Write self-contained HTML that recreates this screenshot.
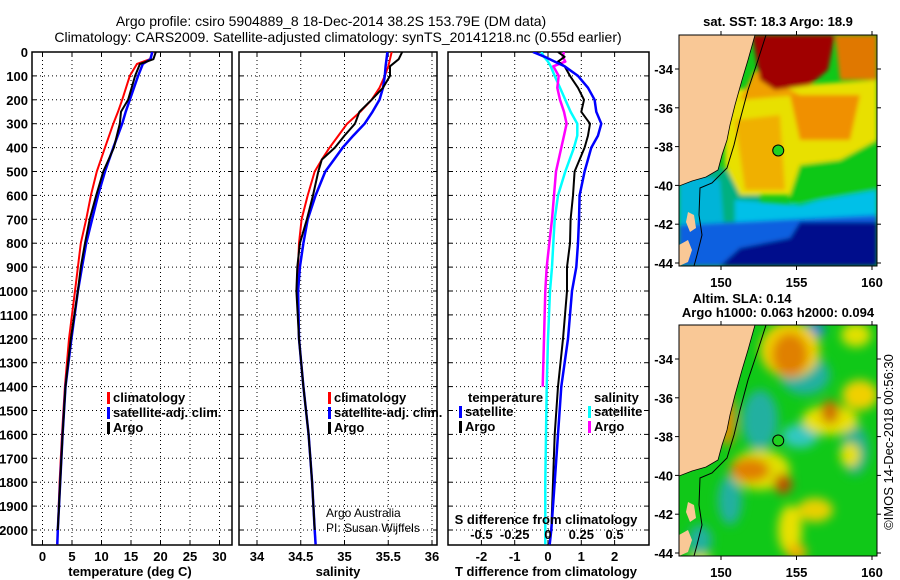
<!DOCTYPE html>
<html><head><meta charset="utf-8">
<style>
html,body{margin:0;padding:0;background:#fff;}
svg{display:block;font-family:"Liberation Sans",sans-serif;}
.tk{font-size:13px;font-weight:bold;fill:#000;}
.tt{font-size:14px;fill:#000;}
.lg{font-size:13px;font-weight:bold;fill:#000;}
</style></head>
<body>
<svg id="chart" width="900" height="580" viewBox="0 0 900 580" xmlns="http://www.w3.org/2000/svg">
<defs>
<filter id="b2" x="-10%" y="-10%" width="120%" height="120%"><feGaussianBlur stdDeviation="2"/></filter>
<filter id="b5" x="-30%" y="-30%" width="160%" height="160%"><feGaussianBlur stdDeviation="5"/></filter>
<clipPath id="cm1"><rect x="679" y="35" width="198" height="231"/></clipPath>
<clipPath id="cm2"><rect x="679" y="325" width="198" height="231"/></clipPath>
<clipPath id="cp1"><rect x="32" y="52" width="200" height="493"/></clipPath>
<clipPath id="cp2"><rect x="239" y="52" width="198" height="493"/></clipPath>
<clipPath id="cp3"><rect x="448" y="52" width="201" height="493"/></clipPath>
</defs>
<text class="tt" x="331" y="26" text-anchor="middle">Argo profile: csiro 5904889_8 18-Dec-2014 38.2S 153.79E (DM data)</text>
<text class="tt" x="338" y="42" text-anchor="middle">Climatology: CARS2009. Satellite-adjusted climatology: synTS_20141218.nc (0.55d earlier)</text>
<g id="p1"></g>
<g id="p2"></g>
<g id="p3"></g>
<g id="maps"></g>
</svg>
<script>
// ---------- data ----------
const tDepth = [0,30,50,100,200,250,300,400,500,600,700,800,900,1000,1200,1400,1600,1800,2000,2060];
const climT = [18.7,18.2,16.0,14.8,13.5,12.8,12.0,10.6,9.2,8.2,7.4,6.5,6.0,5.5,4.5,3.8,3.3,2.9,2.6,2.5];
const satT  = [18.6,18.3,17.0,16.2,14.8,14.1,13.5,12.0,10.6,9.4,8.4,7.4,6.7,6.0,4.9,3.9,3.4,3.0,2.6,2.5];
const argoT = [19.2,18.8,16.5,15.7,14.5,13.3,13.1,12.1,10.3,9.1,8.0,7.2,6.5,6.0,4.8,3.9,3.4,3.0,2.6,null];

const sDepth = [0,30,60,100,150,200,250,300,350,400,450,500,600,700,800,900,1000,1200,1400,1600,1800,2000,2060];
const climS = [35.54,35.52,35.50,35.46,35.40,35.31,35.18,35.03,34.93,34.83,34.74,34.66,34.58,34.51,34.48,34.47,34.46,34.48,34.53,34.59,34.63,34.66,34.67];
const satS  = [35.49,35.48,35.47,35.46,35.44,35.40,35.32,35.23,35.10,34.98,34.88,34.78,34.67,34.58,34.53,34.49,34.47,34.48,34.53,34.59,34.63,34.66,34.67];
const argoS = [35.66,35.62,35.52,35.52,35.44,35.31,35.17,35.12,35.00,34.89,34.74,34.70,34.64,34.57,34.49,34.46,34.45,34.48,34.53,34.59,34.63,34.66,null];

const dDepth = [0,20,40,60,100,150,200,250,300,350,400,500,600,700,800,900,1000,1200,1400,1600,1800,2000,2060];
const satTd  = [-0.45,-0.1,0.2,0.5,0.9,1.2,1.4,1.45,1.6,1.5,1.3,1.1,0.95,0.93,0.9,0.85,0.72,0.6,0.4,0.3,0.2,0.1,0.05];
const argoTd = [0.3,0.5,0.3,0.5,0.66,0.9,1.08,1.0,1.26,1.2,1.1,0.8,0.75,0.68,0.66,0.57,0.57,0.45,0.3,0.2,0.15,0.1,null];
const satSd  = [-0.05,-0.03,0.0,0.02,0.05,0.09,0.13,0.17,0.22,0.22,0.195,0.13,0.075,0.05,0.04,0.03,0.015,0.0,-0.01,-0.015,-0.02,-0.02,-0.02];
const argoSd = [0.12,0.11,0.13,0.04,0.08,0.07,0.09,0.12,0.14,0.12,0.10,0.06,0.045,0.03,0.01,-0.01,-0.02,-0.03,-0.04,null,null,null,null];

const depthTicks = [0,100,200,300,400,500,600,700,800,900,1000,1100,1200,1300,1400,1500,1600,1700,1800,1900,2000];
const tTicks = [0,5,10,15,20,25,30];
const sTicks = [34,34.5,35,35.5,36];
const dTTicks = [-2,-1,0,1,2];
const dSTicks = [-0.5,-0.25,0,0.25,0.5];
const dSTickLabels = ['-0.5','-0.25','0','0.25','0.5'];

// ---------- axes ----------
const NS='http://www.w3.org/2000/svg';
const yD = d => 52 + 0.239*d;
const xT = t => 42.5 + 5.9*t;
const xS = s => 257 + 87.5*(s-34);
const xDT = d => 548 + 33.3*d;
const xDS = d => 548 + 133.2*d;

function mk(tag, attrs, parent){const e=document.createElementNS(NS,tag);for(const k in attrs)e.setAttribute(k,attrs[k]);parent.appendChild(e);return e;}
function txt(s, attrs, parent){const e=mk('text',attrs,parent);e.textContent=s;return e;}

function frame(g, x0, x1, xticks, xfun, labels, clipId){
  const grid = mk('g',{},g);
  
  
  depthTicks.forEach(d=>{
    mk('line',{x1:x0,x2:x1,y1:yD(d),y2:yD(d),stroke:'#000','stroke-width':1,'stroke-dasharray':'1,3'},grid);
    mk('line',{x1:x0,x2:x0+4,y1:yD(d),y2:yD(d),stroke:'#000'},grid);
    mk('line',{x1:x1-4,x2:x1,y1:yD(d),y2:yD(d),stroke:'#000'},grid);
  });
  xticks.forEach((t,i)=>{
    const x=xfun(t);
    mk('line',{x1:x,x2:x,y1:52,y2:545,stroke:'#000','stroke-width':1,'stroke-dasharray':'1,3'},grid);
    mk('line',{x1:x,x2:x,y1:541,y2:545,stroke:'#000'},grid);
    mk('line',{x1:x,x2:x,y1:52,y2:56,stroke:'#000'},grid);
    const lb=txt(labels[i],{class:'tk',x:x,y:561,'text-anchor':'middle'},g);
    
    
  });
  const r=mk('rect',{x:x0,y:52,width:x1-x0,height:493,fill:'none',stroke:'#000','stroke-width':1.5},g);
  
  
}
function line(g, xs, ds, xf, color, w, name, clip){
  let p='';let started=false;
  for(let i=0;i<xs.length;i++){
    if(xs[i]===null||xs[i]===undefined){continue;}
    p+=(started?'L':'M')+xf(xs[i]).toFixed(1)+','+yD(ds[i]).toFixed(1);started=true;
  }
  const e=mk('path',{d:p,fill:'none',stroke:color,'stroke-width':w,'stroke-linejoin':'round','clip-path':'url(#'+clip+')'},g);
  
  
}
function legend(g, x, y, items){
  items.forEach((it,i)=>{
    mk('rect',{x:x,y:y+i*15-10,width:3,height:12,fill:it[1]},g);
    const t=txt(it[0],{class:'lg',x:x+6,y:y+i*15},g);
    
    
  });
}

// depth labels
const p1=document.getElementById('p1');
depthTicks.forEach(d=>{
  const t=txt(String(d),{class:'tk',x:28,y:yD(d)+5,'text-anchor':'end'},p1);
  
  
});
frame(p1,32,232,tTicks,xT,tTicks.map(String),'cp1');
line(p1,climT,tDepth,xT,'#ff0000',2,'climatology-temperature-line','cp1');
line(p1,satT,tDepth,xT,'#0000ff',2.5,'satellite-temperature-line','cp1');
line(p1,argoT,tDepth,xT,'#000000',2,'argo-temperature-line','cp1');
legend(p1,107,402,[['climatology','#ff0000'],['satellite-adj. clim.','#0000ff'],['Argo','#000']]);
let at=txt('temperature (deg C)',{class:'tk',x:130,y:576,'text-anchor':'middle'},p1);



const p2=document.getElementById('p2');
frame(p2,239,437,sTicks,xS,sTicks.map(String),'cp2');
line(p2,climS,sDepth,xS,'#ff0000',2,'climatology-salinity-line','cp2');
line(p2,satS,sDepth,xS,'#0000ff',2.5,'satellite-salinity-line','cp2');
line(p2,argoS,sDepth,xS,'#000000',2,'argo-salinity-line','cp2');
legend(p2,328,402,[['climatology','#ff0000'],['satellite-adj. clim.','#0000ff'],['Argo','#000']]);
txt('Argo Australia',{x:326,y:517,'font-size':12,fill:'#000'},p2);
txt('PI: Susan Wijffels',{x:326,y:532,'font-size':12,fill:'#000'},p2);
at=txt('salinity',{class:'tk',x:338,y:576,'text-anchor':'middle'},p2);



const p3=document.getElementById('p3');
frame(p3,448,649,dTTicks,xDT,dTTicks.map(String),'cp3');
line(p3,satSd,dDepth,xDS,'#00ffff',2.5,'satellite-salinity-diff-line','cp3');
line(p3,argoSd,dDepth,xDS,'#ff00ff',2.5,'argo-salinity-diff-line','cp3');
line(p3,argoTd,dDepth,xDT,'#000000',2,'argo-temperature-diff-line','cp3');
line(p3,satTd,dDepth,xDT,'#0000ff',2.5,'satellite-temperature-diff-line','cp3');
txt('temperature',{class:'lg',x:468,y:402},p3);
legend(p3,459,416,[['satellite','#0000ff'],['Argo','#000']]);
txt('salinity',{class:'lg',x:594,y:402},p3);
legend(p3,588,416,[['satellite','#00ffff'],['Argo','#ff00ff']]);
txt('S difference from climatology',{class:'lg',x:546,y:524,'text-anchor':'middle'},p3);
dSTicks.forEach((s,i)=>{
  const t=txt(dSTickLabels[i],{class:'lg',x:xDS(s),y:539,'text-anchor':'middle'},p3);
  
  
});
at=txt('T difference from climatology',{class:'tk',x:546,y:576,'text-anchor':'middle'},p3);



// ---------- maps ----------
const maps=document.getElementById('maps');
const latTicks=[-34,-36,-38,-40,-42,-44];
const lonTicks=[150,155,160];
const mx = lon => 721 + 15.1*(lon-150);
const my = (lat,off) => off + 69 + 19.4*(-34-lat);
const landPts='679,35 755,35 748,60 742,80 735,105 730,125 727,140 722,155 718,170 706,177 692,181 679,186';
const shelfPts='766,35 758,60 748,90 740,120 734,145 727,168 712,183 700,188 699,215 702,235 697,255 694,266';
function mapFrame(off, title1, title2){
  const g=mk('g',{},maps);
  
  
  return g;
}
// SST map
const g1=mapFrame(0);
const c1=mk('g',{'clip-path':'url(#cm1)'},g1);
mk('rect',{x:679,y:35,width:198,height:231,fill:'#10c818'},c1);
const sstShapes=[
 ['#00b080','679,150 760,185 760,240 679,240'],
 ['#00b4d8','679,170 720,180 725,240 679,240'],
 ['#00c0e8','735,200 800,205 877,185 877,225 735,235'],
 ['#0a60e0','679,225 877,215 877,266 679,266'],
 ['#000c8c','740,248 790,238 800,222 877,222 877,266 720,266'],
 ['#10c818','780,160 877,140 877,190 790,205'],
 ['#e8e000','725,90 877,80 877,140 840,160 800,165 790,195 740,195 725,165'],
 ['#f0b000','735,120 780,115 785,190 745,190'],
 ['#f09000','790,95 860,95 850,140 800,140'],
 ['#e07800','835,35 877,35 877,80 840,80'],
 ['#f0a000','755,70 800,95 740,100'],
 ['#a00000','752,35 835,35 828,70 810,85 775,90 760,80']
];
const s1=mk('g',{filter:'url(#b2)'},c1);
sstShapes.forEach(s=>{const p=mk('polygon',{points:s[1],fill:s[0]},s1);});
// SLA map
const g2=mapFrame(290);
const c2=mk('g',{'clip-path':'url(#cm2)'},g2);
mk('rect',{x:679,y:325,width:198,height:231,fill:'#10c818'},c2);
const slaBlobs=[
 ['#20b0a0',805,375,25,20],['#20b0a0',760,420,18,30],['#30c8c0',800,436,18,12],['#20b090',855,450,14,25],
 ['#20b0a0',730,500,12,25],['#20b0a0',700,540,12,15],['#0080e0',815,330,10,8],
 ['#f0d000',790,350,30,28],['#e08000',790,355,18,22],
 ['#e0e000',760,470,30,20],['#e09000',727,420,9,26],['#e08000',750,470,20,12],['#c05000',783,484,9,10],
 ['#e8e000',830,420,28,15],['#d07000',830,412,9,12],['#f0d000',860,395,18,15],
 ['#e8d000',815,510,18,12],['#e8e000',850,455,10,12],['#e8e000',790,530,12,25],['#f0b000',797,552,10,8],
 ['#e0e000',700,560,12,6],['#e0e000',856,335,15,12]
];
const s2=mk('g',{filter:'url(#b5)'},c2);
slaBlobs.forEach(b=>{const e=mk('ellipse',{cx:b[1],cy:b[2],rx:b[3],ry:b[4],fill:b[0]},s2);});
[[c1,0],[c2,290]].forEach(([c,off])=>{
  const sh=mk('polyline',{points:shelfPts,fill:'none',stroke:'#000','stroke-width':1,transform:'translate(0,'+off+')'},c);
  
  const ld=mk('polygon',{points:landPts,fill:'#f9c896',stroke:'#000','stroke-width':0.8,transform:'translate(0,'+off+')'},c);
  
  mk('polygon',{points:'679,245 688,240 692,250 688,262 679,266',fill:'#f9c896',transform:'translate(0,'+off+')'},c);
  mk('polygon',{points:'688,212 694,215 696,228 690,232 686,222',fill:'#f9c896',transform:'translate(0,'+off+')'},c);
  const ci=mk('circle',{cx:mx(153.79),cy:my(-38.2,off),r:5.5,fill:'#20d020',stroke:'#000','stroke-width':1},c);
  
  
  const fr=mk('rect',{x:679,y:35+off,width:198,height:231,fill:'none',stroke:'#000','stroke-width':1},c.parentNode);
  
  latTicks.forEach(l=>{
    const y=my(l,off);
    mk('line',{x1:675,x2:679,y1:y,y2:y,stroke:'#000'},c.parentNode);
    mk('line',{x1:877,x2:881,y1:y,y2:y,stroke:'#000'},c.parentNode);
    const t=txt(String(l),{class:'tk',x:673,y:y+5,'text-anchor':'end'},c.parentNode);
    
    
  });
  lonTicks.forEach(l=>{
    const x=mx(l);
    mk('line',{x1:x,x2:x,y1:31+off,y2:35+off,stroke:'#000'},c.parentNode);
    mk('line',{x1:x,x2:x,y1:266+off,y2:270+off,stroke:'#000'},c.parentNode);
    const t=txt(String(l),{class:'tk',x:x,y:287+off,'text-anchor':'middle'},c.parentNode);
    
    
  });
});
txt('sat. SST: 18.3 Argo: 18.9',{class:'lg',x:778,y:26,'text-anchor':'middle'},maps);
txt('Altim. SLA: 0.14',{class:'lg',x:742,y:303,'text-anchor':'middle'},maps);
txt('Argo h1000: 0.063 h2000: 0.094',{class:'lg',x:778,y:317,'text-anchor':'middle'},maps);
txt('©IMOS 14-Dec-2018 00:56:30',{x:893,y:442,'font-size':13,fill:'#000','text-anchor':'middle',transform:'rotate(-90 893 442)'},maps);
</script>
</body></html>
